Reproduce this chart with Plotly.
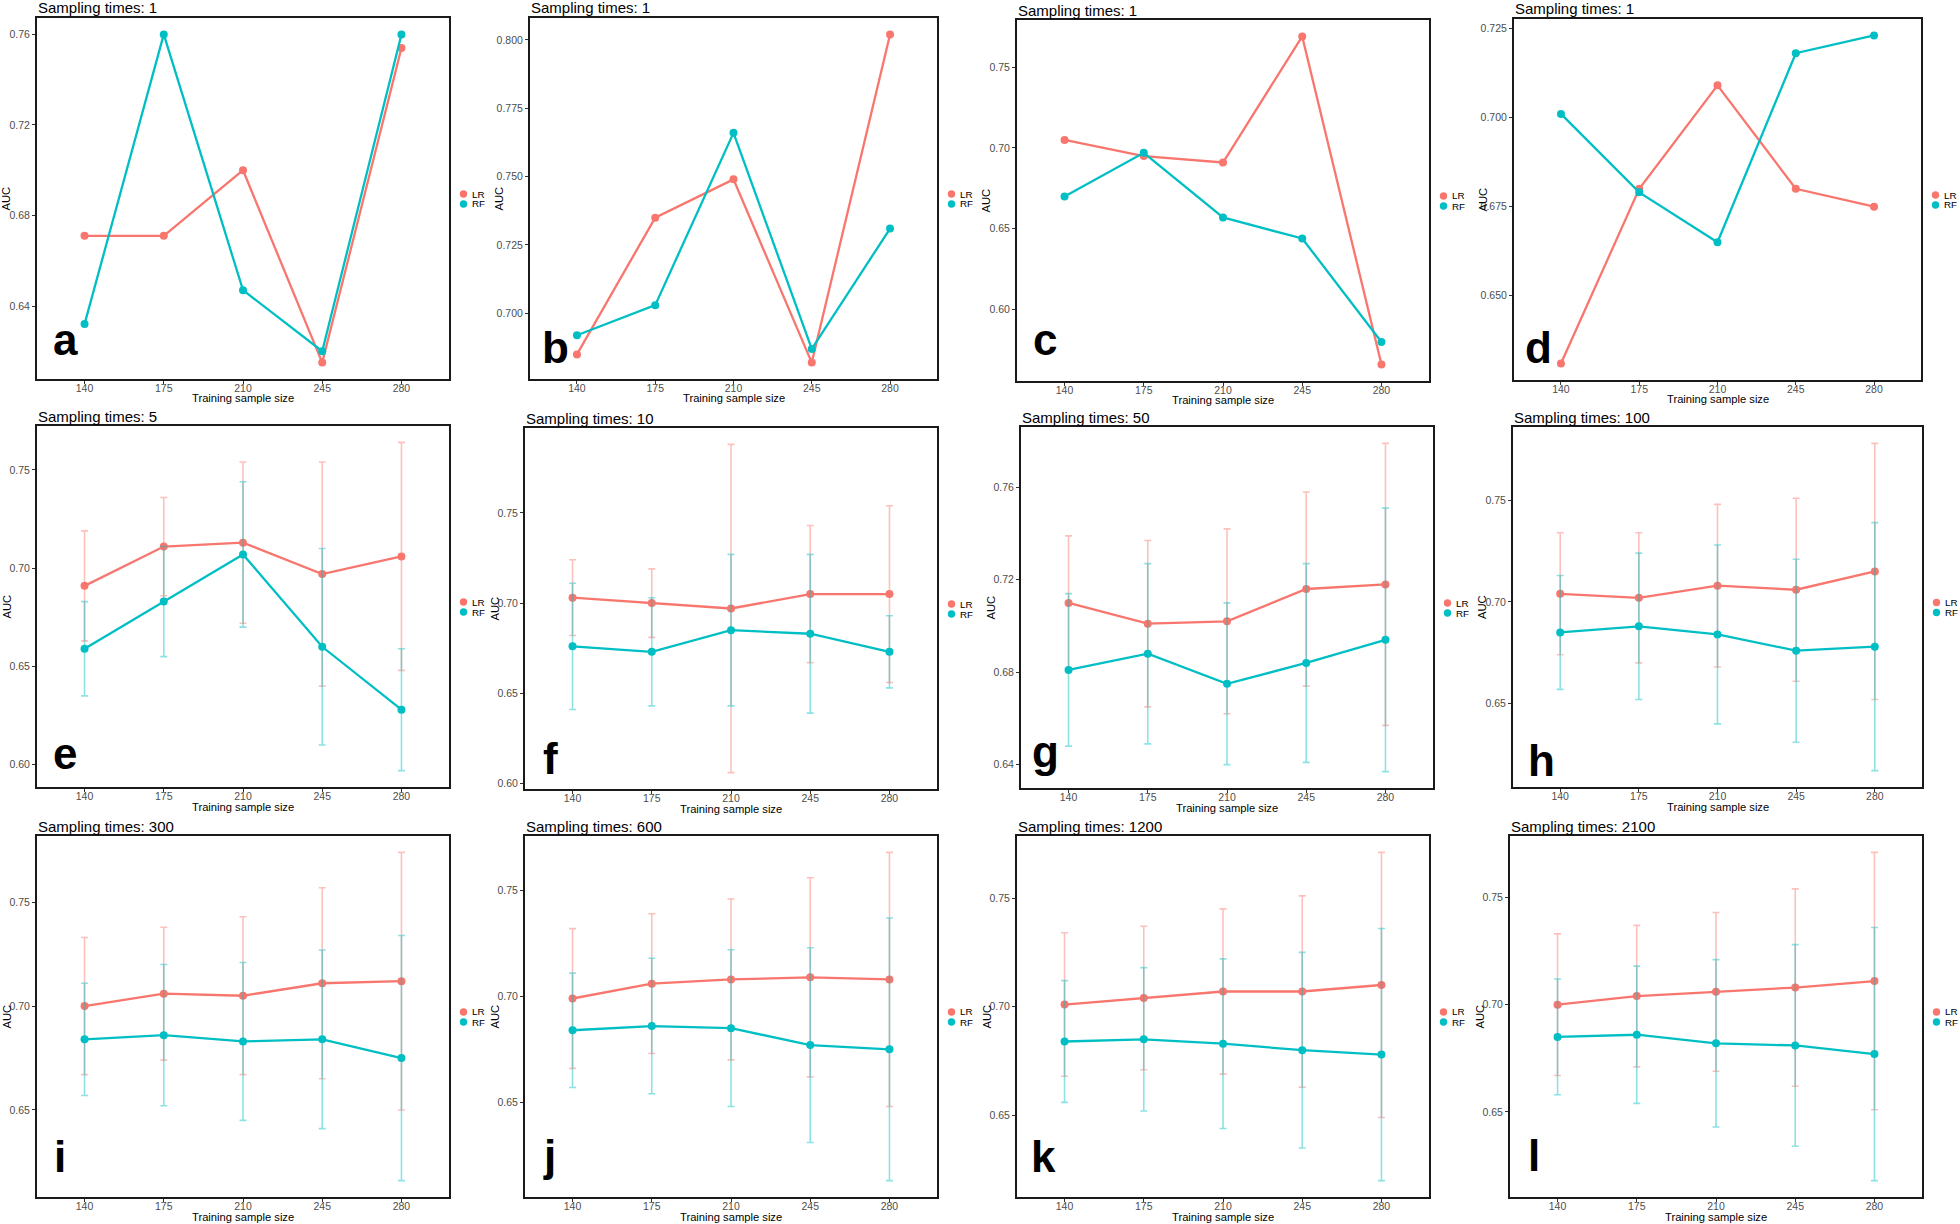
import plotly.graph_objects as go

W, H = 1960, 1224

# ---------------- data ----------------
sample_sizes = [140, 175, 210, 245, 280]
series_names = ["LR", "RF"]
sampling_times = ["1", "1", "1", "1", "5", "10", "50", "100", "300", "600", "1200", "2100"]
panel_letters = ["a", "b", "c", "d", "e", "f", "g", "h", "i", "j", "k", "l"]

# single sampling (panels a-d)
lr_a = [0.671, 0.671, 0.700, 0.615, 0.754]
rf_a = [0.632, 0.760, 0.647, 0.620, 0.760]
lr_b = [0.685, 0.735, 0.749, 0.682, 0.802]
rf_b = [0.692, 0.703, 0.766, 0.687, 0.731]
lr_c = [0.705, 0.695, 0.691, 0.769, 0.566]
rf_c = [0.670, 0.697, 0.657, 0.644, 0.580]
lr_d = [0.631, 0.680, 0.709, 0.680, 0.675]
rf_d = [0.701, 0.679, 0.665, 0.718, 0.723]

# repeated sampling (panels e-l): mean and sd
lr_e = [0.691, 0.711, 0.713, 0.697, 0.706]
lr_sd_e = [0.028, 0.025, 0.041, 0.057, 0.058]
rf_e = [0.659, 0.683, 0.707, 0.660, 0.628]
rf_sd_e = [0.024, 0.028, 0.037, 0.050, 0.031]

lr_f = [0.703, 0.700, 0.697, 0.705, 0.705]
lr_sd_f = [0.021, 0.019, 0.091, 0.038, 0.049]
rf_f = [0.676, 0.673, 0.685, 0.683, 0.673]
rf_sd_f = [0.035, 0.030, 0.042, 0.044, 0.020]

lr_g = [0.710, 0.701, 0.702, 0.716, 0.718]
lr_sd_g = [0.029, 0.036, 0.040, 0.042, 0.061]
rf_g = [0.681, 0.688, 0.675, 0.684, 0.694]
rf_sd_g = [0.033, 0.039, 0.035, 0.043, 0.057]

lr_h = [0.704, 0.702, 0.708, 0.706, 0.715]
lr_sd_h = [0.030, 0.032, 0.040, 0.045, 0.063]
rf_h = [0.685, 0.688, 0.684, 0.676, 0.678]
rf_sd_h = [0.028, 0.036, 0.044, 0.045, 0.061]

lr_i = [0.700, 0.706, 0.705, 0.711, 0.712]
lr_sd_i = [0.033, 0.032, 0.038, 0.046, 0.062]
rf_i = [0.684, 0.686, 0.683, 0.684, 0.675]
rf_sd_i = [0.027, 0.034, 0.038, 0.043, 0.059]

lr_j = [0.699, 0.706, 0.708, 0.709, 0.708]
lr_sd_j = [0.033, 0.033, 0.038, 0.047, 0.060]
rf_j = [0.684, 0.686, 0.685, 0.677, 0.675]
rf_sd_j = [0.027, 0.032, 0.037, 0.046, 0.062]

lr_k = [0.701, 0.704, 0.707, 0.707, 0.710]
lr_sd_k = [0.033, 0.033, 0.038, 0.044, 0.061]
rf_k = [0.684, 0.685, 0.683, 0.680, 0.678]
rf_sd_k = [0.028, 0.033, 0.039, 0.045, 0.058]

lr_l = [0.700, 0.704, 0.706, 0.708, 0.711]
lr_sd_l = [0.033, 0.033, 0.037, 0.046, 0.060]
rf_l = [0.685, 0.686, 0.682, 0.681, 0.677]
rf_sd_l = [0.027, 0.032, 0.039, 0.047, 0.059]

# y tick values per panel
yticks_a = [0.64, 0.68, 0.72, 0.76]
yticks_b = [0.700, 0.725, 0.750, 0.775, 0.800]
yticks_c = [0.60, 0.65, 0.70, 0.75]
yticks_d = [0.650, 0.675, 0.700, 0.725]
yticks_e = [0.60, 0.65, 0.70, 0.75]
yticks_f = [0.60, 0.65, 0.70, 0.75]
yticks_g = [0.64, 0.68, 0.72, 0.76]
yticks_h = [0.65, 0.70, 0.75]
yticks_i = [0.65, 0.70, 0.75]
yticks_j = [0.65, 0.70, 0.75]
yticks_k = [0.65, 0.70, 0.75]
yticks_l = [0.65, 0.70, 0.75]

panels = [
    (lr_a, None, rf_a, None, yticks_a, ".2f"),
    (lr_b, None, rf_b, None, yticks_b, ".3f"),
    (lr_c, None, rf_c, None, yticks_c, ".2f"),
    (lr_d, None, rf_d, None, yticks_d, ".3f"),
    (lr_e, lr_sd_e, rf_e, rf_sd_e, yticks_e, ".2f"),
    (lr_f, lr_sd_f, rf_f, rf_sd_f, yticks_f, ".2f"),
    (lr_g, lr_sd_g, rf_g, rf_sd_g, yticks_g, ".2f"),
    (lr_h, lr_sd_h, rf_h, rf_sd_h, yticks_h, ".2f"),
    (lr_i, lr_sd_i, rf_i, rf_sd_i, yticks_i, ".2f"),
    (lr_j, lr_sd_j, rf_j, rf_sd_j, yticks_j, ".2f"),
    (lr_k, lr_sd_k, rf_k, rf_sd_k, yticks_k, ".2f"),
    (lr_l, lr_sd_l, rf_l, rf_sd_l, yticks_l, ".2f"),
]

# ---------------- layout geometry (pixels) ----------------
boxes = [
    (37, 18, 449, 379), (530, 18, 937, 379), (1017, 20, 1429, 381), (1514, 19, 1921, 380),
    (37, 426, 449, 787), (525, 428, 937, 789), (1021, 427, 1433, 788), (1513, 427, 1922, 787),
    (37, 836, 449, 1197), (525, 836, 937, 1197), (1017, 836, 1429, 1197), (1510, 836, 1922, 1197),
]
letter_offsets = [(16, 23), (12, 15), (16, 25), (11, 16), (16, 17), (18, 14),
                  (11, 20), (15, 10), (17, 24), (18, 25), (14, 24), (18, 25)]

colors = {"LR": "#F8766D", "RF": "#00BFC4"}
err_colors = {"LR": "rgba(248,118,109,0.45)", "RF": "rgba(0,191,196,0.45)"}
FONT = "Liberation Sans, Arial, Helvetica, sans-serif"


def px(x):
    return x / W


def py(y):
    return 1 - y / H


fig = go.Figure()
layout = dict(
    width=W, height=H, margin=dict(l=0, r=0, t=0, b=0),
    paper_bgcolor="white", plot_bgcolor="white", showlegend=False,
    font=dict(family=FONT, color="#000000"),
)
annotations = []
shapes = []

step = sample_sizes[1] - sample_sizes[0]
x_range = [sample_sizes[0] - 0.6 * step, sample_sizes[-1] + 0.6 * step]

for n, (pan, box, loff) in enumerate(zip(panels, boxes, letter_offsets), start=1):
    lr, lr_sd, rf, rf_sd, yticks, fmt = pan
    l, t, r, b = box
    xid = "x" if n == 1 else f"x{n}"
    yid = "y" if n == 1 else f"y{n}"
    xkey = "xaxis" if n == 1 else f"xaxis{n}"
    ykey = "yaxis" if n == 1 else f"yaxis{n}"

    lows, highs = [], []
    for name, vals, sd in (("LR", lr, lr_sd), ("RF", rf, rf_sd)):
        sdv = sd if sd is not None else [0] * len(vals)
        lows += [v - s for v, s in zip(vals, sdv)]
        highs += [v + s for v, s in zip(vals, sdv)]
        tr = dict(
            x=sample_sizes, y=vals, mode="lines+markers", name=name,
            line=dict(color=colors[name], width=2.3),
            marker=dict(color=colors[name], size=8),
            xaxis=xid, yaxis=yid, showlegend=False,
        )
        if sd is not None:
            tr["error_y"] = dict(type="data", array=sd, symmetric=True,
                                 color=err_colors[name], thickness=1.6, width=3.5)
        fig.add_trace(go.Scatter(**tr))

    lo, hi = min(lows), max(highs)
    pad = 0.05 * (hi - lo)

    axis_common = dict(
        showgrid=False, zeroline=False, showline=True, mirror=True,
        linecolor="#1a1a1a", linewidth=2, ticks="outside", ticklen=3,
        tickwidth=1, tickcolor="#333333", automargin=False,
        tickfont=dict(family=FONT, size=10.5, color="#4d4d4d"),
    )
    layout[xkey] = dict(axis_common, domain=[px(l), px(r)], anchor=yid,
                        range=x_range, tickvals=sample_sizes,
                        ticktext=[str(s) for s in sample_sizes],
                        ticklabelstandoff=-5)
    layout[ykey] = dict(axis_common, domain=[py(b), py(t)], anchor=xid,
                        range=[lo - pad, hi + pad], tickvals=yticks,
                        tickformat=fmt)

    # panel title
    annotations.append(dict(
        text=f"Sampling times: {sampling_times[n-1]}", xref="paper", yref="paper",
        x=px(l - 1), y=py(t + 0.5), xanchor="left", yanchor="bottom",
        showarrow=False, font=dict(family=FONT, size=15, color="#000000")))
    # axis titles
    annotations.append(dict(
        text="Training sample size", xref="paper", yref="paper",
        x=px((l + r) / 2), y=py(b + 19.5), xanchor="center", yanchor="middle",
        showarrow=False, font=dict(family=FONT, size=11.2, color="#000000")))
    annotations.append(dict(
        text="AUC", xref="paper", yref="paper", textangle=-90,
        x=px(l - 31), y=py((t + b) / 2), xanchor="center", yanchor="middle",
        showarrow=False, font=dict(family=FONT, size=11.2, color="#000000")))
    # panel letter
    annotations.append(dict(
        text=f"<b>{panel_letters[n-1]}</b>", xref="paper", yref="paper",
        x=px(l + loff[0] - 2), y=py(b - loff[1] + 10.3), xanchor="left", yanchor="bottom",
        showarrow=False, font=dict(family=FONT, size=44, color="#000000")))
    # legend (per panel, ggplot style)
    cy = (t + b) / 2
    for k, name in enumerate(series_names):
        yy = cy - 4.5 + 10 * k
        cx = r + 14.5
        rad = 3.7
        shapes.append(dict(type="circle", xref="paper", yref="paper",
                           x0=px(cx - rad), x1=px(cx + rad), y0=py(yy + rad), y1=py(yy - rad),
                           fillcolor=colors[name], line=dict(width=0)))
        annotations.append(dict(
            text=name, xref="paper", yref="paper", x=px(r + 20.5), y=py(yy),
            xanchor="left", yanchor="middle", showarrow=False,
            font=dict(family=FONT, size=9.8, color="#000000")))

layout["annotations"] = annotations
layout["shapes"] = shapes
fig.update_layout(**layout)
fig.write_html("out.html", config={"displayModeBar": False},
               post_script="document.body.style.margin='0px';")
